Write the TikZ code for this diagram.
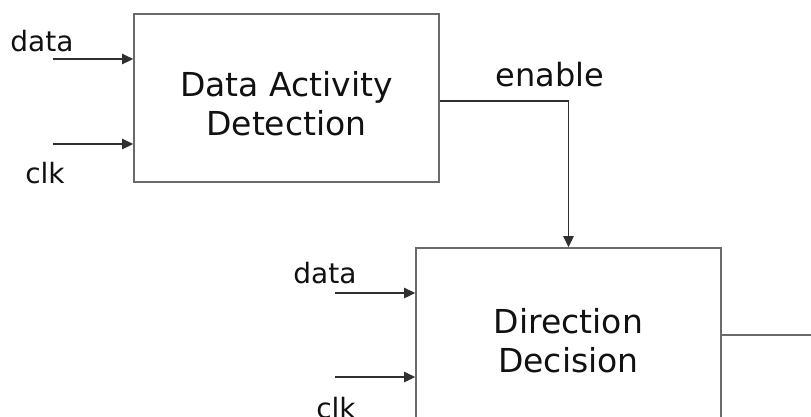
\documentclass[tikz,border=0pt]{standalone}
\usepackage{fontspec}
\setmainfont{DejaVu Sans}
\usetikzlibrary{arrows.meta}
\definecolor{boxline}{HTML}{6A6A6A}
\definecolor{wire}{HTML}{303030}
\definecolor{ink}{HTML}{111111}
\tikzset{
  block/.style={draw=boxline, line width=1.8pt, minimum width=305pt, minimum height=168pt, inner sep=0pt},
  blocktext/.style={text=ink, font=\fontsize{33}{39}\selectfont, align=center},
  sig/.style={text=ink, font=\fontsize{28}{32}\selectfont, inner sep=0pt},
  wireline/.style={draw=wire, line width=1.3pt},
  inarrow/.style={wireline, -{Triangle[length=11pt,width=10.5pt]}}
}
\begin{document}
\begin{tikzpicture}[x=1pt,y=-1pt]
\useasboundingbox (0,0) rectangle (811,416);

% processing blocks
\node[block] (b1) at (286.5,98) {};
\node[blocktext] (t1) at (286.5,104) {Data Activity\\Detection};
\node[block, minimum height=176pt] (b2) at (568.5,336) {};
\node[blocktext] (t2) at (568.5,341) {Direction\\Decision};

% inputs of the detection block
\coordinate (d1) at (53,59);
\coordinate (c1) at (53,144);
\node[sig] (ld1) at (42,41) {data};
\node[sig] (lc1) at (45,173) {clk};
\draw[inarrow] (d1) -- (d1 -| b1.west);
\draw[inarrow] (c1) -- (c1 -| b1.west);

% inputs of the decision block
\coordinate (d2) at (335,293);
\coordinate (c2) at (335,377);
\node[sig] (ld2) at (325,273) {data};
\node[sig] (lc2) at (336,408) {clk};
\draw[inarrow] (d2) -- (d2 -| b2.west);
\draw[inarrow] (c2) -- (c2 -| b2.west);

% enable path between the blocks
\node[sig, font=\fontsize{32}{36}\selectfont] (len) at (550,75) {enable};
\draw[inarrow] ([yshift=-3pt]b1.east) -| (b2.north);

% output of the decision block
\coordinate (out) at (811,335);
\draw[wireline, draw=boxline] (out -| b2.east) -- (out);
\end{tikzpicture}
\end{document}
